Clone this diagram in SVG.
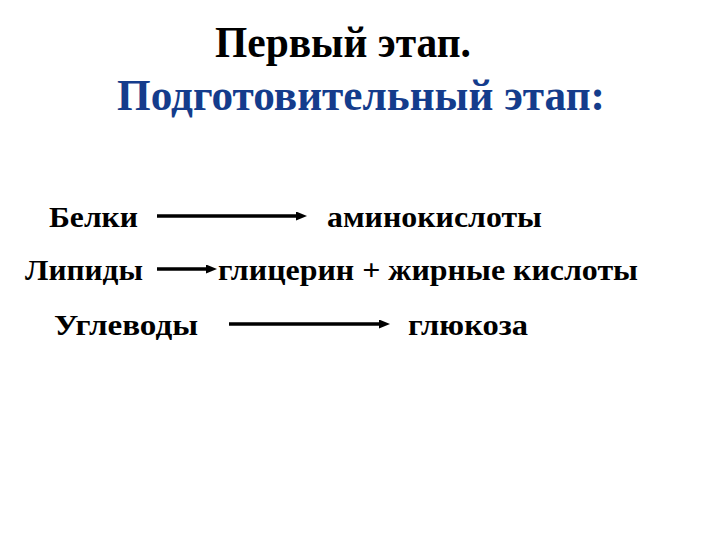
<svg xmlns="http://www.w3.org/2000/svg" width="720" height="540" viewBox="0 0 720 540">
<style>
text{font-family:"Liberation Serif","Times New Roman","DejaVu Serif",serif;font-weight:bold;fill:#000}
.t{font-size:45px}
.b{fill:#143c8c}
.l{font-size:30px}
.c{stroke:#000;stroke-width:3.5;fill:none}
</style>
<defs>
<marker id="ah" markerWidth="11" markerHeight="9" refX="1" refY="4.5" orient="auto" markerUnits="userSpaceOnUse">
<path d="M0,0 L11,4.5 L0,9 Z" fill="#000"/>
</marker>
</defs>
<rect width="720" height="540" fill="#fff"/>
<g id="title">
<text class="t" x="215" y="57" textLength="256" lengthAdjust="spacingAndGlyphs">Первый этап.</text>
<text class="t b" x="117" y="110" textLength="488" lengthAdjust="spacingAndGlyphs">Подготовительный этап:</text>
</g>
<g id="connectors">
<line class="c" x1="157" y1="216" x2="297" y2="216" marker-end="url(#ah)"/>
<line class="c" x1="157" y1="269" x2="207" y2="269" marker-end="url(#ah)"/>
<line class="c" x1="229" y1="324" x2="380" y2="324" marker-end="url(#ah)"/>
</g>
<g id="n1"><text class="l" x="49" y="227" textLength="89" lengthAdjust="spacingAndGlyphs">Белки</text></g>
<g id="n2"><text class="l" x="327" y="227" textLength="215" lengthAdjust="spacingAndGlyphs">аминокислоты</text></g>
<g id="n3"><text class="l" x="25" y="280" textLength="118" lengthAdjust="spacingAndGlyphs">Липиды</text></g>
<g id="n4"><text class="l" x="218" y="280" textLength="420" lengthAdjust="spacingAndGlyphs">глицерин + жирные кислоты</text></g>
<g id="n5"><text class="l" x="54" y="335" textLength="144" lengthAdjust="spacingAndGlyphs">Углеводы</text></g>
<g id="n6"><text class="l" x="408" y="335" textLength="120" lengthAdjust="spacingAndGlyphs">глюкоза</text></g>
</svg>
